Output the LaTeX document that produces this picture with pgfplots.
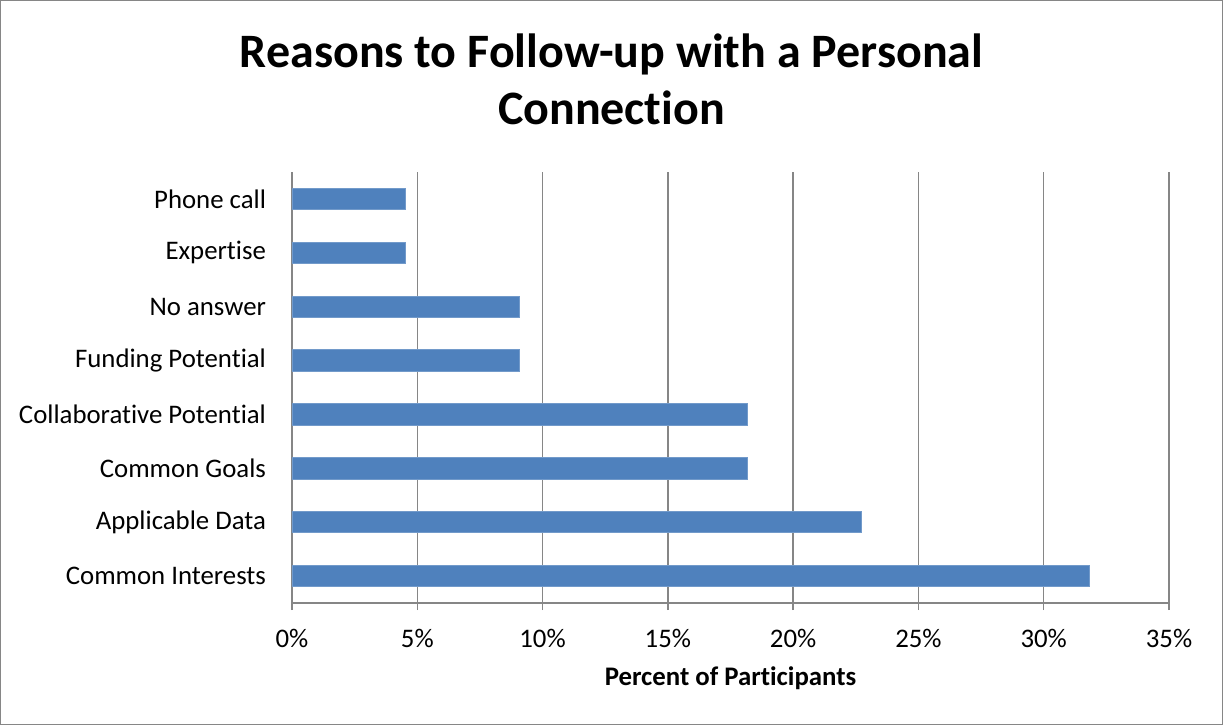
\documentclass[border=0pt]{standalone}
\usepackage{pgfplots}
\pgfplotsset{compat=1.18}
\usepackage{fontspec}
\setmainfont{Carlito}[Ligatures=NoCommon]
\definecolor{barblue}{HTML}{4F81BD}
\definecolor{gridgray}{HTML}{868686}
\begin{document}
\begin{tikzpicture}[x=1pt,y=1pt]
\draw[gridgray, line width=0.6pt] (0.3,0.3) rectangle (611.2,362.2);
\node[anchor=base, font=\bfseries\fontsize{24}{28}\selectfont] at (305.75,328.5) {Reasons to Follow-up with a Personal};
\node[anchor=base, font=\bfseries\fontsize{24}{28}\selectfont] at (305.75,300.5) {Connection};
\begin{axis}[
  at={(146pt,61pt)}, anchor=south west,
  scale only axis, width=438.5pt, height=215.5pt,
  xbar, bar width=10.7pt,
  xmin=0, xmax=35, ymin=-0.5, ymax=7.5,
  xtick={0,5,10,15,20,25,30,35},
  xticklabels={0\%,5\%,10\%,15\%,20\%,25\%,30\%,35\%},
  ytick={0,1,2,3,4,5,6,7},
  yticklabels={Common Interests,Applicable Data,Common Goals,Collaborative Potential,Funding Potential,No answer,Expertise,Phone call},
  axis x line*=bottom, axis y line*=left,
  axis line style={-, draw=gridgray, line width=0.75pt},
  xmajorgrids, major grid style={draw=gridgray, line width=0.75pt},
  tick align=outside, major tick length=3.5pt,
  xtick style={draw=gridgray, line width=0.75pt},
  ytick style={draw=none},
  /pgf/number format/assume math mode=true,
  tick label style={font=\fontsize{13.4}{15}\selectfont},
  xticklabel style={yshift=-6pt},
  yticklabel style={xshift=-6pt},
  xlabel={Percent of Participants},
  xlabel style={font=\bfseries\fontsize{13.4}{15}\selectfont, at={(axis description cs:0.5,0)}, anchor=center, yshift=-37.5pt},
]
\addplot[fill=barblue, draw=barblue!80!white] coordinates {
(31.818,0) (22.727,1) (18.182,2) (18.182,3) (9.091,4) (9.091,5) (4.545,6) (4.545,7)};
\end{axis}
\end{tikzpicture}
\end{document}
